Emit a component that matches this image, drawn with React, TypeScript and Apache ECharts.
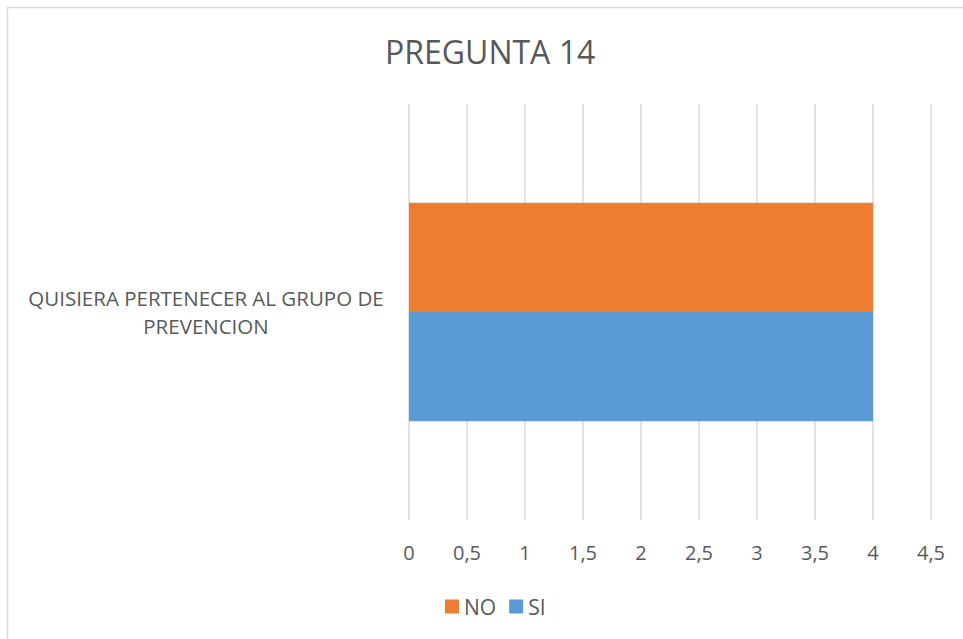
import React, { useEffect, useRef } from "react";
import * as echarts from "echarts";

const categories = ["QUISIERA PERTENECER AL GRUPO DE\nPREVENCION"];
const seriesNames = ["NO", "SI"];
const noValues = [4];
const siValues = [4];
const xTicks = { min: 0, max: 4.5, interval: 0.5 };

export default function App() {
  const ref = useRef<HTMLDivElement>(null);
  useEffect(() => {
    if (!ref.current) return;
    const chart = echarts.init(ref.current, null, { renderer: "svg" });
    const font = "'Open Sans', Lato, sans-serif";
    chart.setOption({
      animation: false,
      backgroundColor: "#ffffff",
      title: {
        text: "PREGUNTA 14",
        left: 380,
        top: 30,
        textStyle: { fontFamily: font, fontSize: 32, fontWeight: "normal", color: "#595959" },
      },
      graphic: [
        {
          type: "rect",
          shape: { x: 7.5, y: 7.5, width: 980, height: 660 },
          style: { fill: "none", stroke: "#d9d9d9", lineWidth: 1.5 },
          silent: true,
        },
      ],
      legend: {
        data: seriesNames,
        top: 591,
        left: 440,
        itemWidth: 14,
        itemHeight: 14,
        itemGap: 13,
        icon: "rect",
        textStyle: { fontFamily: font, fontSize: 21, color: "#595959" },
      },
      grid: { left: 409, right: 32, top: 104, bottom: 119, containLabel: false },
      xAxis: {
        type: "value",
        min: xTicks.min,
        max: xTicks.max,
        interval: xTicks.interval,
        axisLine: { show: false },
        axisTick: { show: false },
        splitLine: { show: true, lineStyle: { color: "#d9d9d9", width: 1.5 } },
        axisLabel: {
          margin: 22,
          fontFamily: font,
          fontSize: 20,
          color: "#595959",
          formatter: (v: number) => String(v).replace(".", ","),
        },
      },
      yAxis: {
        type: "category",
        data: categories,
        axisLine: { show: false },
        axisTick: { show: false },
        axisLabel: {
          margin: 203,
          align: "center",
          fontFamily: font,
          fontSize: 20.5,
          lineHeight: 28,
          color: "#595959",
        },
      },
      series: [
        {
          name: "NO",
          type: "bar",
          data: noValues,
          itemStyle: { color: "#ED7D31" },
          barGap: "0%",
          barCategoryGap: "47.5%",
        },
        {
          name: "SI",
          type: "bar",
          data: siValues,
          itemStyle: { color: "#5B9BD5" },
          barGap: "0%",
          barCategoryGap: "47.5%",
        },
      ],
    });
    return () => chart.dispose();
  }, []);
  return (
    <div
      ref={ref}
      style={{ position: "fixed", left: 0, top: 0, width: 963, height: 639 }}
    />
  );
}
